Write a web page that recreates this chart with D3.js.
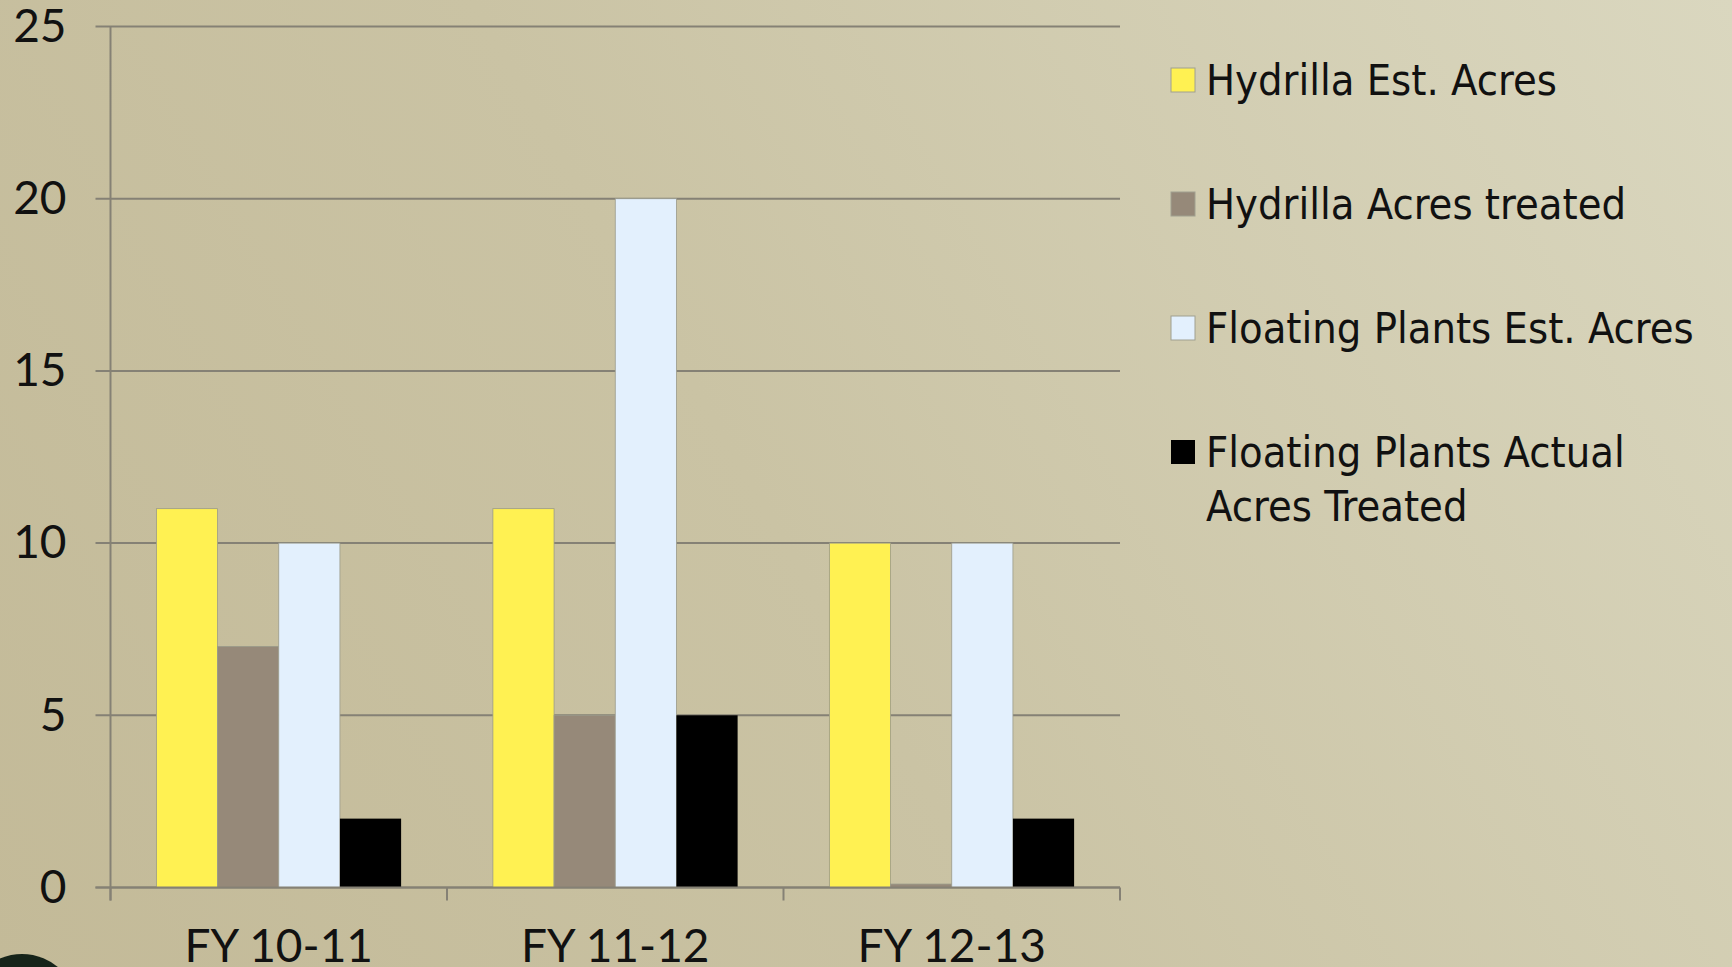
<!DOCTYPE html>
<html>
<head>
<meta charset="utf-8">
<script src="https://cdn.jsdelivr.net/npm/d3@7"></script>
<style>
  html, body { margin: 0; padding: 0; }
  body {
    width: 1732px; height: 967px; overflow: hidden;
    background: linear-gradient(60deg, #c3ba98 0%, #cac3a4 45%, #dad7bf 100%);
  }
  svg { display: block; }
</style>
</head>
<body>
<script>
var categories = ['FY 10-11', 'FY 11-12', 'FY 12-13'];
var seriesNames = ['Hydrilla Est. Acres', 'Hydrilla Acres treated', 'Floating Plants Est. Acres', 'Floating Plants Actual Acres Treated'];
var hydrillaEst = [11, 11, 10];
var hydrillaTreated = [7, 5, 0.1];
var floatingEst = [10, 20, 10];
var floatingTreated = [2, 5, 2];
var yTicks = [0, 5, 10, 15, 20, 25];

var colors = ['#fff152', '#968979', '#e3f0fd', '#000000'];
var seriesValues = [hydrillaEst, hydrillaTreated, floatingEst, floatingTreated];

var W = 1732, H = 967;
var mLeft = 110.5, mRight = 1120, mTop = 26.5, mBottom = 887.5;
var plotW = mRight - mLeft, plotH = mBottom - mTop;

var svg = d3.select('body').append('svg').attr('width', W).attr('height', H);

// cropped logo at bottom left
svg.append('circle').attr('cx', 22).attr('cy', 1010).attr('r', 56).attr('fill', '#16241a');

var g = svg.append('g').attr('transform', 'translate(' + mLeft + ',' + mTop + ')');

var y = d3.scaleLinear().domain([0, 25]).range([plotH, 0]);
var x = d3.scaleBand().domain(categories).range([0, plotW]);
var xs = d3.scaleBand().domain(d3.range(seriesNames.length)).range([0, x.bandwidth()]).paddingOuter(0.75);

// gridlines
g.append('g').selectAll('line').data(yTicks).enter().append('line')
  .attr('x1', -15).attr('x2', plotW)
  .attr('y1', function (d) { return y(d); })
  .attr('y2', function (d) { return y(d); })
  .attr('stroke', '#858175').attr('stroke-width', 2);

// y axis
var yAxis = g.append('g').call(d3.axisLeft(y).tickValues(yTicks).tickSize(0).tickPadding(44));
yAxis.select('.domain').remove();
yAxis.selectAll('text').attr('font-family', 'Lato').attr('font-size', 46).attr('fill', '#111').attr('dy', '0.32em');
g.append('line').attr('x1', 0).attr('x2', 0).attr('y1', 0).attr('y2', plotH + 13)
  .attr('stroke', '#858175').attr('stroke-width', 2);

// bars
categories.forEach(function (c, ci) {
  seriesValues.forEach(function (vals, si) {
    g.append('rect')
      .attr('x', x(c) + xs(si))
      .attr('width', xs.bandwidth())
      .attr('y', y(vals[ci]))
      .attr('height', y(0) - y(vals[ci]))
      .attr('fill', colors[si])
      .attr('stroke', si === 3 ? 'none' : '#9a9a8a').attr('stroke-width', 0.8);
  });
});

// x axis
g.append('line').attr('x1', -15).attr('x2', plotW).attr('y1', plotH).attr('y2', plotH)
  .attr('stroke', '#858175').attr('stroke-width', 2);
var bounds = categories.map(function (c) { return x(c); }).concat([plotW]);
g.append('g').selectAll('line').data(bounds).enter().append('line')
  .attr('x1', function (d) { return d; }).attr('x2', function (d) { return d; })
  .attr('y1', plotH).attr('y2', plotH + 13)
  .attr('stroke', '#858175').attr('stroke-width', 2);
var xAxis = g.append('g').attr('transform', 'translate(0,' + plotH + ')')
  .call(d3.axisBottom(x).tickSize(0).tickPadding(42));
xAxis.select('.domain').remove();
xAxis.selectAll('text').attr('font-family', 'Lato').attr('font-size', 46).attr('fill', '#111');

// legend
var legendLines = [['Hydrilla Est. Acres'], ['Hydrilla Acres treated'], ['Floating Plants Est. Acres'], ['Floating Plants Actual', 'Acres Treated']];
var legendY = [80, 204, 328, 452];
var lg = svg.append('g');
legendLines.forEach(function (lines, i) {
  lg.append('rect').attr('x', 1171).attr('y', legendY[i] - 12).attr('width', 24).attr('height', 24)
    .attr('fill', colors[i]).attr('stroke', i === 3 ? 'none' : '#a0a090').attr('stroke-width', 1);
  var t = lg.append('text').attr('x', 1206).attr('y', legendY[i])
    .attr('font-family', "'DejaVu Sans Condensed', 'DejaVu Sans'").attr('font-stretch', 'condensed')
    .attr('font-size', 43).attr('fill', '#111');
  lines.forEach(function (l, k) {
    t.append('tspan').attr('x', 1206).attr('dy', k === 0 ? '0.36em' : 54).text(l);
  });
});
</script>
</body>
</html>
